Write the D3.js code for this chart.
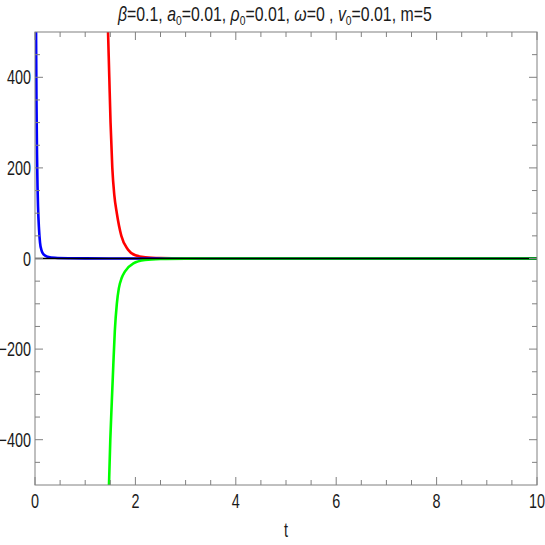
<!DOCTYPE html>
<html><head><meta charset="utf-8">
<script src="https://cdn.jsdelivr.net/npm/d3@7"></script>
<style>
html,body{margin:0;padding:0;background:#fff;}
svg text{font-family:"Liberation Sans",Arial,sans-serif;}
</style>
</head><body>
<svg id="c" width="545" height="545"></svg>
<script>
// ---- data ----
const blueT = [0.012,0.018,0.022,0.03,0.04,0.05,0.06,0.08,0.1,0.13,0.17,0.25,0.4,0.7,1,2,4,10];
const blueY = [1000,600,480,340,230,160,115,65,35,18,9,4,1.5,0.5,0.2,0,0,0];
const redT  = [1.43,1.455,1.48,1.505,1.54,1.58,1.63,1.72,1.85,2.0,2.2,2.5,3,4,10];
const redY  = [600,500,400,300,200,140,100,50,20,7,2.5,0.8,0.2,0,0];
const greenT = [1.45,1.474,1.50,1.53,1.56,1.59,1.63,1.67,1.73,1.79,1.96,2.19,2.5,3,4,10];
const greenY = [-600,-500,-400,-316,-235,-160,-100,-66,-42,-29,-10.6,-3.3,-1,-0.3,-0.05,0];
const xMajor = [0,2,4,6,8,10];
const yMajor = [-400,-200,0,200,400];
const xLabel = "t";

const svg = d3.select("#c");
const L=35, R=537, T=32, B=485;
const x = d3.scaleLinear().domain([0,10]).range([L,R]);
const y = d3.scaleLinear().domain([-500,500]).range([B,T]);

svg.append("defs").append("clipPath").attr("id","clip")
  .append("rect").attr("x",L).attr("y",T).attr("width",R-L).attr("height",B-T);

const line = d3.line().x(d=>x(d[0])).y(d=>y(d[1])).curve(d3.curveMonotoneX);
const g = svg.append("g").attr("clip-path","url(#clip)");
function series(ts, vs, color){
  g.append("path").datum(ts.map((t,i)=>[t,vs[i]]))
    .attr("d",line).attr("fill","none").attr("stroke",color)
    .attr("stroke-width",2.6).attr("stroke-linejoin","round");
}
series(redT, redY, "#ff0000");
series(blueT, blueY, "#0000ff");
series(greenT, greenY, "#00ff00");
g.append("line").attr("x1",L).attr("x2",R).attr("y1",y(0)).attr("y2",y(0))
  .attr("stroke","#000").attr("stroke-width",1.3);

// frame
const frameColor = "#808080";
svg.append("rect").attr("x",L).attr("y",T).attr("width",R-L).attr("height",B-T)
  .attr("fill","none").attr("stroke",frameColor).attr("stroke-width",1);

// ticks
const xMinor = d3.range(0,10.001,0.5).filter(v=>!xMajor.includes(v));
const yMinor = d3.range(-500,500.001,50).filter(v=>!yMajor.includes(v) && v!==-500 && v!==500);
const tg = svg.append("g").attr("stroke",frameColor).attr("stroke-width",1);
function xt(v,len){
  tg.append("line").attr("x1",x(v)).attr("x2",x(v)).attr("y1",B).attr("y2",B-len);
  tg.append("line").attr("x1",x(v)).attr("x2",x(v)).attr("y1",T).attr("y2",T+len);
}
function yt(v,len){
  tg.append("line").attr("y1",y(v)).attr("y2",y(v)).attr("x1",L).attr("x2",L+len);
  tg.append("line").attr("y1",y(v)).attr("y2",y(v)).attr("x1",R).attr("x2",R-len);
}
xMajor.forEach(v=>xt(v,8)); xMinor.forEach(v=>xt(v,5));
yMajor.forEach(v=>yt(v,8)); yMinor.forEach(v=>yt(v,5));

// condensed-looking labels (Mathematica style)
const SX = 0.72, FS = 20;
const fmt = v => v<0 ? "\u2212"+Math.abs(v) : String(v);
svg.append("g").selectAll("text").data(xMajor).join("text")
  .attr("transform",d=>`translate(${x(d)},${B+23}) scale(${SX},1)`)
  .attr("text-anchor","middle").attr("font-size",FS).attr("fill","#1a1a1a").text(fmt);
svg.append("g").selectAll("text").data(yMajor).join("text")
  .attr("transform",d=>`translate(${L-4},${y(d)+7}) scale(${SX},1)`)
  .attr("text-anchor","end").attr("font-size",FS).attr("fill","#1a1a1a").text(fmt);

svg.append("text").attr("transform",`translate(286,537) scale(${SX},1)`)
  .attr("text-anchor","middle").attr("font-size",FS).attr("fill","#1a1a1a").text(xLabel);

// title with subscripts
const tt = svg.append("text").attr("text-anchor","start")
  .attr("font-size",20).attr("fill","#1a1a1a");
const parts = [["β","i"],["=0.1, ",""],["a","i"],["0","s"],["=0.01, ",""],["ρ","i"],["0","s"],["=0.01, ",""],["ω","i"],["=0 , ",""],["v","i"],["0","s"],["=0.01, m=5",""]];
parts.forEach(([s,k],i)=>{
  const ts = tt.append("tspan").text(s);
  if(k==="i") ts.attr("font-style","italic");
  if(k==="s") ts.attr("font-size",13).attr("dy",4);
  else if(i>0 && parts[i-1][1]==="s") ts.attr("dy",-4);
});
const w = tt.node().getComputedTextLength();
const targetW = 314, sx = targetW / w;
tt.attr("transform",`translate(118,21) scale(${sx},1)`);
</script>
</body></html>
